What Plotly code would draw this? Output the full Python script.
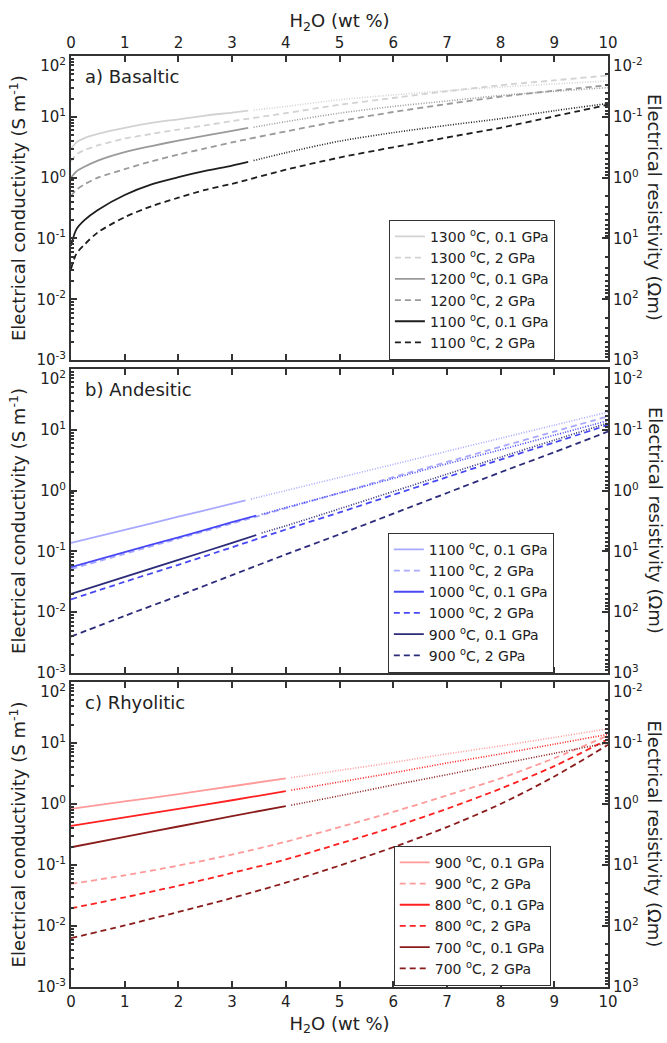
import plotly.graph_objects as go

# ---------------- data (conductivity in S/m) ----------------
# Panel a) Basaltic
xa_solid = [0, 0.1, 0.25, 0.5, 1, 1.5, 2, 2.5, 3, 3.3]
xa_dot = [3.4, 4, 5, 6, 7, 8, 9, 10]
xa_dash = [0, 0.1, 0.25, 0.5, 1, 1.5, 2, 2.5, 3, 4, 5, 6, 7, 8, 9, 10]

bas_1300_01_solid = [2.95, 3.80, 4.47, 5.25, 6.61, 7.94, 9.12, 10.5, 11.7, 12.6]
bas_1300_01_dot = [12.9, 14.8, 19.1, 22.9, 26.9, 30.9, 34.7, 38.9]
bas_1300_2 = [1.86, 2.40, 2.82, 3.39, 4.37, 5.25, 6.17, 7.24, 8.51, 11.5, 15.8, 20.4, 26.3, 33.1, 39.8, 47.9]
bas_1200_01_solid = [1.0, 1.26, 1.51, 1.91, 2.63, 3.31, 4.07, 4.90, 5.89, 6.61]
bas_1200_01_dot = [6.76, 8.32, 11.5, 14.8, 18.2, 22.4, 26.3, 30.2]
bas_1200_2 = [0.501, 0.631, 0.776, 1.0, 1.38, 1.86, 2.40, 3.02, 3.80, 5.75, 8.51, 12.0, 16.2, 21.4, 26.9, 33.1]
bas_1100_01_solid = [0.0759, 0.141, 0.200, 0.295, 0.520, 0.776, 1.02, 1.29, 1.58, 1.82]
bas_1100_01_dot = [1.91, 2.57, 3.98, 5.50, 7.24, 9.33, 12.6, 16.6]
bas_1100_2 = [0.0316, 0.0562, 0.0794, 0.126, 0.224, 0.339, 0.468, 0.631, 0.794, 1.35, 2.14, 3.16, 4.57, 6.61, 10.2, 15.8]

# Panel b) Andesitic
xb_solid_hot = [0, 1, 2, 3, 3.25]
xb_dot_hot = [3.35, 4, 5, 6, 7, 8, 9, 10]
xb_solid = [0, 1, 2, 3, 3.45]
xb_dot = [3.55, 4, 5, 6, 7, 8, 9, 10]
xb_dash = [0, 1, 2, 3, 4, 5, 6, 7, 8, 9, 10]

and_1100_01_solid = [0.138, 0.226, 0.372, 0.610, 0.692]
and_1100_01_dot = [0.724, 1.0, 1.64, 2.69, 4.42, 7.24, 11.9, 19.5]
and_1100_2 = [0.0513, 0.0912, 0.162, 0.288, 0.513, 0.912, 1.66, 2.95, 5.25, 9.33, 16.6]
and_1000_01_solid = [0.0550, 0.0977, 0.170, 0.302, 0.389]
and_1000_01_dot = [0.407, 0.525, 0.912, 1.58, 2.75, 4.68, 8.13, 14.1]
and_1000_2 = [0.0162, 0.0316, 0.0603, 0.117, 0.229, 0.437, 0.851, 1.66, 3.24, 6.17, 12.0]
and_900_01_solid = [0.0200, 0.0380, 0.0724, 0.138, 0.186]
and_900_01_dot = [0.200, 0.263, 0.501, 0.966, 1.86, 3.55, 6.76, 12.9]
and_900_2 = [0.00398, 0.00871, 0.0186, 0.0407, 0.0891, 0.191, 0.417, 0.912, 2.0, 4.27, 9.33]

# Panel c) Rhyolitic
xc_solid = [0, 1, 2, 3, 4]
xc_dot = [4.1, 5, 6, 7, 8, 9, 10]
xc_dash = [0, 1, 2, 3, 4, 5, 6, 7, 8, 9, 10]

rhy_900_01_solid = [0.832, 1.10, 1.45, 1.95, 2.63]
rhy_900_01_dot = [2.69, 3.55, 4.79, 6.61, 8.91, 12.3, 17.0]
rhy_900_2 = [0.0490, 0.0676, 0.0977, 0.148, 0.240, 0.417, 0.740, 1.38, 2.63, 5.62, 13.2]
rhy_800_01_solid = [0.437, 0.603, 0.832, 1.15, 1.62]
rhy_800_01_dot = [1.68, 2.29, 3.24, 4.68, 6.61, 9.55, 13.8]
rhy_800_2 = [0.0195, 0.0295, 0.0457, 0.0741, 0.123, 0.224, 0.417, 0.832, 1.78, 4.17, 11.5]
rhy_700_01_solid = [0.195, 0.288, 0.427, 0.631, 0.923]
rhy_700_01_dot = [0.955, 1.36, 2.04, 3.02, 4.52, 6.76, 10.0]
rhy_700_2 = [0.00631, 0.0102, 0.0170, 0.0288, 0.0513, 0.0977, 0.195, 0.417, 1.0, 2.82, 9.33]

cond_ticks = [1e-3, 1e-2, 1e-1, 1e0, 1e1, 1e2]
cond_ticktext = ["10<sup>-3</sup>", "10<sup>-2</sup>", "10<sup>-1</sup>", "10<sup>0</sup>",
                 "10<sup>1</sup>", " <br>10<sup>2</sup>"]
res_ticks = [1e-2, 1e-1, 1e0, 1e1, 1e2, 1e3]
res_ticktext = [" <br>10<sup>-2</sup>", "10<sup>-1</sup>", "10<sup>0</sup>", "10<sup>1</sup>",
                "10<sup>2</sup>", "10<sup>3</sup>"]
x_ticks = [0, 1, 2, 3, 4, 5, 6, 7, 8, 9, 10]

# ---------------- styling ----------------
FONT = "DejaVu Sans"
AX = "#333333"
TXT = "#222222"
DASH = "6px,4px"
DOT = "1px,1.6px"
LW = 1.8

panels = [
    ("x", "y", "legend", [
        ("1300", "#d2d2d2", xa_solid, bas_1300_01_solid, xa_dot, bas_1300_01_dot, xa_dash, bas_1300_2),
        ("1200", "#9a9a9a", xa_solid, bas_1200_01_solid, xa_dot, bas_1200_01_dot, xa_dash, bas_1200_2),
        ("1100", "#1e1e1e", xa_solid, bas_1100_01_solid, xa_dot, bas_1100_01_dot, xa_dash, bas_1100_2),
    ]),
    ("x2", "y3", "legend2", [
        ("1100", "#a9a9ff", xb_solid_hot, and_1100_01_solid, xb_dot_hot, and_1100_01_dot, xb_dash, and_1100_2),
        ("1000", "#4848f5", xb_solid, and_1000_01_solid, xb_dot, and_1000_01_dot, xb_dash, and_1000_2),
        ("900", "#2b2b7a", xb_solid, and_900_01_solid, xb_dot, and_900_01_dot, xb_dash, and_900_2),
    ]),
    ("x3", "y5", "legend3", [
        ("900", "#ff9a9a", xc_solid, rhy_900_01_solid, xc_dot, rhy_900_01_dot, xc_dash, rhy_900_2),
        ("800", "#ff2020", xc_solid, rhy_800_01_solid, xc_dot, rhy_800_01_dot, xc_dash, rhy_800_2),
        ("700", "#8a1c1c", xc_solid, rhy_700_01_solid, xc_dot, rhy_700_01_dot, xc_dash, rhy_700_2),
    ]),
]

fig = go.Figure()
for xax, yax, leg, curves in panels:
    for (T, col, xs, ys, xd, yd, xdash, ydash) in curves:
        fig.add_trace(go.Scatter(x=xs, y=ys, xaxis=xax, yaxis=yax, mode="lines",
                                 line=dict(color=col, width=LW, shape="spline", smoothing=0.8),
                                 legend=leg, name=f"{T} <sup>o</sup>C, 0.1 GPa"))
        fig.add_trace(go.Scatter(x=xdash, y=ydash, xaxis=xax, yaxis=yax, mode="lines",
                                 line=dict(color=col, width=LW, dash=DASH, shape="spline",
                                           smoothing=0.8),
                                 legend=leg, name=f"{T} <sup>o</sup>C, 2 GPa"))
        fig.add_trace(go.Scatter(x=xd, y=yd, xaxis=xax, yaxis=yax, mode="lines",
                                 line=dict(color=col, width=1.6, dash=DOT, shape="spline",
                                           smoothing=0.8),
                                 showlegend=False, hoverinfo="skip"))

# empty traces so that right-hand resistivity axes are drawn
for xax, yax in [("x", "y2"), ("x2", "y4"), ("x3", "y6")]:
    fig.add_trace(go.Scatter(x=[], y=[], xaxis=xax, yaxis=yax, showlegend=False, hoverinfo="skip"))

minor_cond = [m * 10.0 ** k for k in range(-3, 2) for m in range(2, 10)]
minor_res = [m * 10.0 ** k for k in range(-2, 3) for m in range(2, 10)]

common_axis = dict(showline=True, linecolor=AX, linewidth=2, ticks="inside", tickcolor=AX,
                   tickwidth=1.5, showgrid=False, zeroline=False,
                   tickfont=dict(family=FONT, size=15, color=TXT))

doms = [[0.6733, 1.0], [0.3372, 0.6639], [0.0, 0.3277]]

layout = dict(
    width=667, height=1043,
    margin=dict(l=71, r=59, t=56, b=38),
    plot_bgcolor="white", paper_bgcolor="white",
    font=dict(family=FONT, color=TXT),
)

xtitle = dict(text="H<sub>2</sub>O (wt %)", font=dict(family=FONT, size=18, color=TXT))
layout["xaxis"] = dict(common_axis, domain=[0, 1], range=[0, 10], anchor="y", side="top",
                       mirror="ticks", ticklen=6, tickmode="array", tickvals=x_ticks,
                       title=dict(xtitle, standoff=0))
layout["xaxis2"] = dict(common_axis, domain=[0, 1], range=[0, 10], anchor="y3", mirror="ticks",
                        ticklen=6, tickmode="array", tickvals=x_ticks, showticklabels=False)
layout["xaxis3"] = dict(common_axis, domain=[0, 1], range=[0, 10], anchor="y5", side="bottom",
                        mirror="ticks", ticklen=6, tickmode="array", tickvals=x_ticks,
                        title=dict(xtitle, standoff=7))

ytitle = dict(text="Electrical conductivity (S m<sup>-1</sup>)",
              font=dict(family=FONT, size=18, color=TXT))
for i, (left, right, xa) in enumerate([("yaxis", "yaxis2", "x"), ("yaxis3", "yaxis4", "x2"),
                                       ("yaxis5", "yaxis6", "x3")]):
    lname = "y" if i == 0 else f"y{2 * i + 1}"
    layout[left] = dict(common_axis, domain=doms[i], type="log", range=[-3, 2], anchor=xa,
                        tickmode="array", tickvals=cond_ticks, ticktext=cond_ticktext, ticklen=6,
                        minor=dict(ticks="inside", ticklen=3, tickcolor=AX, tickmode="array",
                                   tickvals=minor_cond),
                        title=dict(ytitle, standoff=6))
    layout[right] = dict(common_axis, overlaying=lname, side="right", type="log", range=[3, -2],
                         anchor=xa, tickmode="array", tickvals=res_ticks, ticktext=res_ticktext,
                         ticklen=6,
                         minor=dict(ticks="inside", ticklen=3, tickcolor=AX, tickmode="array",
                                    tickvals=minor_res))

leg_common = dict(xanchor="left", yanchor="top", bgcolor="white", bordercolor=AX, borderwidth=1,
                  font=dict(family=FONT, size=14, color=TXT), tracegroupgap=0,
                  xref="paper", yref="paper")
layout["legend"] = dict(leg_common, x=0.592, y=0.824)
layout["legend2"] = dict(leg_common, x=0.590, y=0.4879)
layout["legend3"] = dict(leg_common, x=0.601, y=0.1517)

annotations = []
for i, (lab, ya) in enumerate([("a) Basaltic", "y"), ("b) Andesitic", "y3"), ("c) Rhyolitic", "y5")]):
    xa = ["x", "x2", "x3"][i]
    annotations.append(dict(text=lab, xref=f"{xa} domain", yref=f"{ya} domain", x=0.022, y=0.933,
                            xanchor="left", yanchor="middle", showarrow=False,
                            font=dict(family=FONT, size=18, color=TXT)))
    annotations.append(dict(text="Electrical resistivity (\u03a9m)", xref="paper", yref="paper",
                            x=1.0875, y=sum(doms[i]) / 2, textangle=90, showarrow=False,
                            xanchor="center", yanchor="middle",
                            font=dict(family=FONT, size=18, color=TXT)))
layout["annotations"] = annotations

fig.update_layout(**layout)
fig.write_html("out.html")
